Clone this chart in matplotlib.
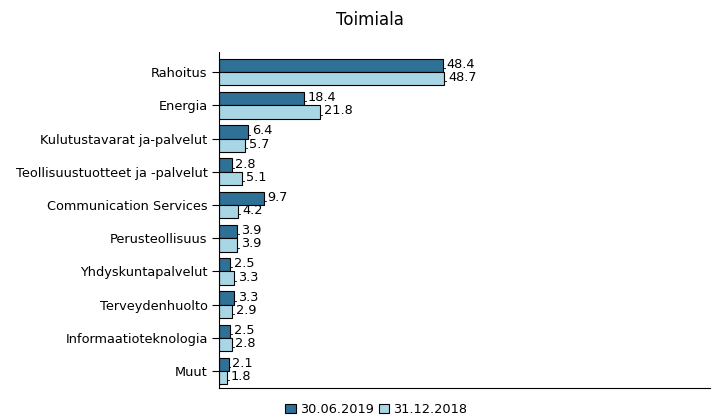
import matplotlib
matplotlib.use("Agg")
import matplotlib.pyplot as plt
import numpy as np

plt.rcParams['font.family'] = ['DejaVu Sans']

categories = ["Rahoitus", "Energia", "Kulutustavarat ja-palvelut",
              "Teollisuustuotteet ja -palvelut", "Communication Services",
              "Perusteollisuus", "Yhdyskuntapalvelut", "Terveydenhuolto",
              "Informaatioteknologia", "Muut"]
s2019 = [48.4, 18.4, 6.4, 2.8, 9.7, 3.9, 2.5, 3.3, 2.5, 2.1]
s2018 = [48.7, 21.8, 5.7, 5.1, 4.2, 3.9, 3.3, 2.9, 2.8, 1.8]
series_names = ["30.06.2019", "31.12.2018"]
colors = ["#2e7096", "#a9d6e5"]

fig = plt.figure(figsize=(7.15, 4.17), dpi=100)
ax = fig.add_axes([0.306, 0.07, 0.687, 0.805])

y = np.arange(len(categories))
h = 0.4
b1 = ax.barh(y - h/2, s2019, height=h, color=colors[0], edgecolor="black", linewidth=0.8, label=series_names[0])
b2 = ax.barh(y + h/2, s2018, height=h, color=colors[1], edgecolor="black", linewidth=0.8, label=series_names[1])

fs = 9.3
for yy, vals in ((y - h/2, s2019), (y + h/2, s2018)):
    for yi, v in zip(yy, vals):
        ax.plot([v, v + 0.4], [yi + 0.08, yi + 0.08], color="black", linewidth=0.6)
        ax.text(v + 0.8, yi - 0.03, f"{v:.1f}", va="center", ha="left", fontsize=fs)

ax.set_yticks(y)
ax.set_yticklabels(categories, fontsize=fs)
ax.invert_yaxis()
ax.set_ylim(len(categories) - 0.5, -0.6)
ax.set_xlim(0, 106)
ax.set_xticks([])
ax.spines['top'].set_visible(False)
ax.spines['right'].set_visible(False)
ax.tick_params(axis='y', length=5, width=0.8, pad=3)

fig.text(0.518, 0.952, "Toimiala", ha="center", va="center", fontsize=12)
fig.legend(handles=[b1, b2], labels=series_names, loc="center", bbox_to_anchor=(0.526, 0.018),
           ncol=2, frameon=False, fontsize=fs, handlelength=0.8, handleheight=0.8,
           columnspacing=0.4, handletextpad=0.3, borderpad=0)

fig.savefig("out.png", dpi=100)
